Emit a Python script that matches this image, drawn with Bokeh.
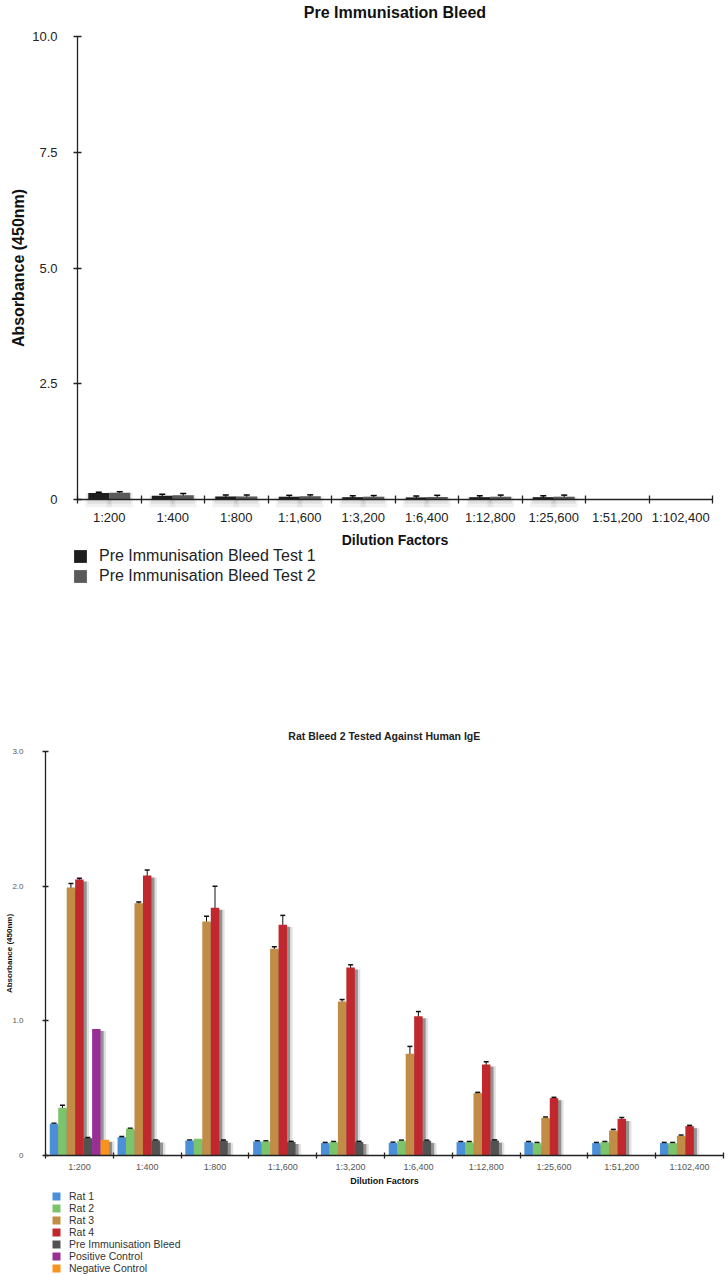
import numpy as np
from bokeh.plotting import figure
from bokeh.models import (ColumnDataSource, FixedTicker, Legend, LegendItem,
                          Whisker, TeeHead, Range1d, Label)
from bokeh.transform import dodge
from bokeh.layouts import column
from bokeh.embed import file_html
from bokeh.resources import INLINE

# ---------------- data ----------------
dilutions = ["1:200", "1:400", "1:800", "1:1,600", "1:3,200", "1:6,400",
             "1:12,800", "1:25,600", "1:51,200", "1:102,400"]

# Chart 1: Pre immunisation bleed
pre_test1 = [0.14, 0.08, 0.065, 0.06, 0.05, 0.045, 0.05, 0.05, None, None]
pre_test1_err = [0.015, 0.035, 0.03, 0.03, 0.03, 0.03, 0.03, 0.03, 0, 0]
pre_test2 = [0.145, 0.093, 0.065, 0.07, 0.06, 0.055, 0.06, 0.06, None, None]
pre_test2_err = [0.02, 0.035, 0.03, 0.03, 0.025, 0.035, 0.035, 0.035, 0, 0]

# Chart 2: Rat bleed 2 tested against human IgE
rat1 = [0.235, 0.136, 0.111, 0.104, 0.092, 0.094, 0.099, 0.099, 0.092, 0.092]
rat1_err = [0.005, 0.005, 0.005, 0.005, 0.005, 0.005, 0.005, 0.005, 0.005, 0.005]
rat2 = [0.354, 0.198, 0.124, 0.104, 0.099, 0.109, 0.099, 0.092, 0.099, 0.092]
rat2_err = [0.02, 0.005, 0.0, 0.005, 0.005, 0.005, 0.005, 0.005, 0.005, 0.005]
rat3 = [1.99, 1.873, 1.737, 1.535, 1.143, 0.755, 0.463, 0.28, 0.186, 0.146]
rat3_err = [0.03, 0.01, 0.04, 0.015, 0.015, 0.055, 0.006, 0.006, 0.008, 0.006]
rat4 = [2.05, 2.08, 1.84, 1.713, 1.396, 1.034, 0.676, 0.426, 0.272, 0.218]
rat4_err = [0.008, 0.04, 0.16, 0.07, 0.02, 0.035, 0.02, 0.006, 0.01, 0.006]
pre_bleed = [0.128, 0.111, 0.11, 0.10, 0.10, 0.109, 0.111, None, None, None]
pre_bleed_err = [0.005, 0.005, 0.005, 0.005, 0.005, 0.005, 0.005, 0, 0, 0]
pos_ctrl = [0.94, None, None, None, None, None, None, None, None, None]
pos_ctrl_err = [0, 0, 0, 0, 0, 0, 0, 0, 0, 0]
neg_ctrl = [0.117, None, None, None, None, None, None, None, None, None]
neg_ctrl_err = [0, 0, 0, 0, 0, 0, 0, 0, 0, 0]

FONT = "Liberation Sans"
n = len(dilutions)
centers = [i + 0.5 for i in range(n)]
bounds = [float(i) for i in range(n + 1)]
label_map = {c: d for c, d in zip(centers, dilutions)}


def bar_source(vals, drop=0.0):
    xs, tops, sh = [], [], []
    for i, v in enumerate(vals):
        if v is None:
            continue
        xs.append(i + 0.5)
        tops.append(v)
        sh.append(max(v - drop, 0))
    return ColumnDataSource(dict(x=xs, top=tops, shadow=sh))


def err_source(vals, errs):
    xs, lo, hi = [], [], []
    for i, (v, e) in enumerate(zip(vals, errs)):
        if v is None or not e:
            continue
        xs.append(i + 0.5)
        lo.append(v - e)
        hi.append(v + e)
    return ColumnDataSource(dict(x=xs, lower=lo, upper=hi))


def make_fig(width, height, x0_px, x1_px, y0_px, ytop_px, ymax):
    """Figure whose frame fills it; axes are placed at fixed data locations."""
    xs = (x1_px - x0_px) / n
    ys = (y0_px - ytop_px) / ymax
    p = figure(width=width, height=height, output_backend="svg",
               toolbar_location=None,
               x_range=Range1d(-x0_px / xs, (width - x0_px) / xs),
               y_range=Range1d(-(height - y0_px) / ys, y0_px / ys),
               min_border=0, min_border_left=0, min_border_right=0,
               min_border_top=0, min_border_bottom=0)
    p.outline_line_color = None
    p.grid.visible = False
    p.xaxis.fixed_location = 0
    p.yaxis.fixed_location = 0
    p.xaxis.bounds = (0, n)
    p.yaxis.bounds = (0, ymax)
    p.xaxis.ticker = FixedTicker(ticks=centers, minor_ticks=bounds)
    p.xaxis.major_label_overrides = label_map
    p.xaxis.axis_label = "Dilution Factors"
    p.yaxis.axis_label = "Absorbance (450nm)"
    return p, (lambda py: (y0_px - py) / ys)


def style_axes(p, tick_font, tick_color, axis_color, tick_len, ystand, xstand):
    for ax in (p.xaxis[0], p.yaxis[0]):
        ax.axis_line_color = axis_color
        ax.axis_line_width = 1.3
        ax.major_label_text_font = FONT
        ax.major_label_text_font_size = tick_font
        ax.major_label_text_color = tick_color
        ax.axis_label_text_font = FONT
        ax.axis_label_text_font_style = "bold"
        ax.axis_label_text_color = "#111111"
    xa = p.xaxis[0]
    xa.major_tick_in = 0
    xa.major_tick_out = 0
    xa.minor_tick_in = tick_len
    xa.minor_tick_out = tick_len
    xa.minor_tick_line_color = axis_color
    xa.minor_tick_line_width = 1.3
    xa.major_label_standoff = xstand
    ya = p.yaxis[0]
    ya.major_tick_in = tick_len
    ya.major_tick_out = tick_len
    ya.major_tick_line_color = axis_color
    ya.major_tick_line_width = 1.3
    ya.minor_tick_line_color = None
    ya.major_label_standoff = ystand


# ---------------- chart 1 ----------------
H1 = 700
p1, py1 = make_fig(728, H1, 77, 712, 499, 36, 10)
p1.yaxis.ticker = FixedTicker(ticks=[0, 2.5, 5.0, 7.5, 10.0])
p1.yaxis.major_label_overrides = {0: "0", 2.5: "2.5", 5.0: "5.0", 7.5: "7.5", 10.0: "10.0"}
style_axes(p1, "13px", "#222222", "#222222", 4, 16, 6)
p1.xaxis.axis_label_text_font_size = "14px"
p1.yaxis.axis_label_text_font_size = "16px"
p1.xaxis.axis_label_standoff = 4
p1.yaxis.axis_label_standoff = 2
p1.add_layout(Label(x=n / 2, y=py1(12), text="Pre Immunisation Bleed",
                    text_align="center", text_baseline="middle", text_font=FONT,
                    text_font_size="16px", text_font_style="bold", text_color="#111111"))

top_series = [("Pre Immunisation Bleed Test 1", pre_test1, pre_test1_err, "#1e1e1e", -0.165),
              ("Pre Immunisation Bleed Test 2", pre_test2, pre_test2_err, "#5a5a5a", 0.165)]
items1 = []
# soft glow under the bars
for name, vals, errs, col, off in top_series:
    src = bar_source(vals)
    p1.vbar(x=dodge("x", off), top="top", bottom=-0.17, width=0.42, source=src,
            fill_color="#000000", fill_alpha=0.05, line_color=None)
    p1.vbar(x=dodge("x", off), top="top", bottom=-0.09, width=0.36, source=src,
            fill_color="#000000", fill_alpha=0.07, line_color=None)
for name, vals, errs, col, off in top_series:
    src = bar_source(vals)
    r = p1.vbar(x=dodge("x", off), top="top", width=0.33, source=src,
                fill_color=col, line_color=None)
    items1.append(LegendItem(label=name, renderers=[r]))
    es = err_source(vals, errs)
    p1.add_layout(Whisker(source=es, base=dodge("x", off), upper="upper", lower="lower",
                          dimension="height", line_color="#000000", line_width=1,
                          upper_head=TeeHead(size=6, line_color="#000000", line_width=1.5),
                          lower_head=TeeHead(size=6, line_color="#000000", line_width=1.5)))

leg1 = Legend(items=items1, location=(72, H1 - 585), orientation="vertical",
              glyph_width=16, glyph_height=16, label_height=16, spacing=2,
              label_standoff=11, padding=0, margin=0,
              label_text_font=FONT, label_text_font_size="16px",
              label_text_color="#222222",
              border_line_color=None, background_fill_alpha=0)
p1.add_layout(leg1, "center")

# ---------------- chart 2 ----------------
TOP2 = H1
H2 = 574
p2, py2 = make_fig(728, H2, 45, 723, 1155 - TOP2, 751 - TOP2, 3)
p2.yaxis.ticker = FixedTicker(ticks=[0, 1, 2, 3])
p2.yaxis.major_label_overrides = {0: "0", 1: "1.0", 2: "2.0", 3: "3.0"}
style_axes(p2, "8px", "#555555", "#222222", 3, 19, 3)
p2.xaxis.major_label_text_font_size = "9px"
p2.xaxis.axis_label_text_font_size = "9px"
p2.yaxis.axis_label_text_font_size = "8px"
p2.xaxis.axis_label_standoff = 1
p2.yaxis.axis_label_standoff = -5
p2.add_layout(Label(x=n / 2, y=py2(735 - TOP2), text="Rat Bleed 2 Tested Against Human IgE",
                    text_align="center", text_baseline="middle", text_font=FONT,
                    text_font_size="10.5px", text_font_style="bold", text_color="#222222"))

bw = 0.125
bottom_series = [("Rat 1", rat1, rat1_err, "#4a8fd8"),
                 ("Rat 2", rat2, rat2_err, "#7cc46b"),
                 ("Rat 3", rat3, rat3_err, "#c08c46"),
                 ("Rat 4", rat4, rat4_err, "#c1282e"),
                 ("Pre Immunisation Bleed", pre_bleed, pre_bleed_err, "#525252"),
                 ("Positive Control", pos_ctrl, pos_ctrl_err, "#982f95"),
                 ("Negative Control", neg_ctrl, neg_ctrl_err, "#f7941e")]
srcs = []
for k, (name, vals, errs, col) in enumerate(bottom_series):
    off = (k - 3) * bw
    src = bar_source(vals, drop=0.015)
    srcs.append((src, off))
    # soft drop shadow
    p2.vbar(x=dodge("x", off + 0.08), top="shadow", width=bw, source=src,
            fill_color="#000000", fill_alpha=0.12, line_color=None)
    p2.vbar(x=dodge("x", off + 0.045), top="shadow", width=bw, source=src,
            fill_color="#000000", fill_alpha=0.35, line_color=None)
items2 = []
for k, (name, vals, errs, col) in enumerate(bottom_series):
    src, off = srcs[k]
    r = p2.vbar(x=dodge("x", off), top="top", width=bw, source=src,
                fill_color=col, line_color=None)
    items2.append(LegendItem(label=name, renderers=[r]))
for k, (name, vals, errs, col) in enumerate(bottom_series):
    off = (k - 3) * bw
    es = err_source(vals, errs)
    p2.add_layout(Whisker(source=es, base=dodge("x", off), upper="upper", lower="lower",
                          dimension="height", line_color="#111111", line_width=1,
                          upper_head=TeeHead(size=5, line_color="#111111", line_width=1.5),
                          lower_head=TeeHead(size=5, line_color="#111111", line_width=1.5)))

leg2 = Legend(items=items2, location=(51, 0), orientation="vertical",
              glyph_width=10, glyph_height=10, label_height=10, spacing=0,
              label_standoff=8, padding=0, margin=0,
              label_text_font=FONT, label_text_font_size="10.5px",
              label_text_color="#333333",
              border_line_color=None, background_fill_alpha=0)
p2.add_layout(leg2, "center")

layout = column(p1, p2, spacing=0)
open("out.html", "w").write(file_html(layout, INLINE))
